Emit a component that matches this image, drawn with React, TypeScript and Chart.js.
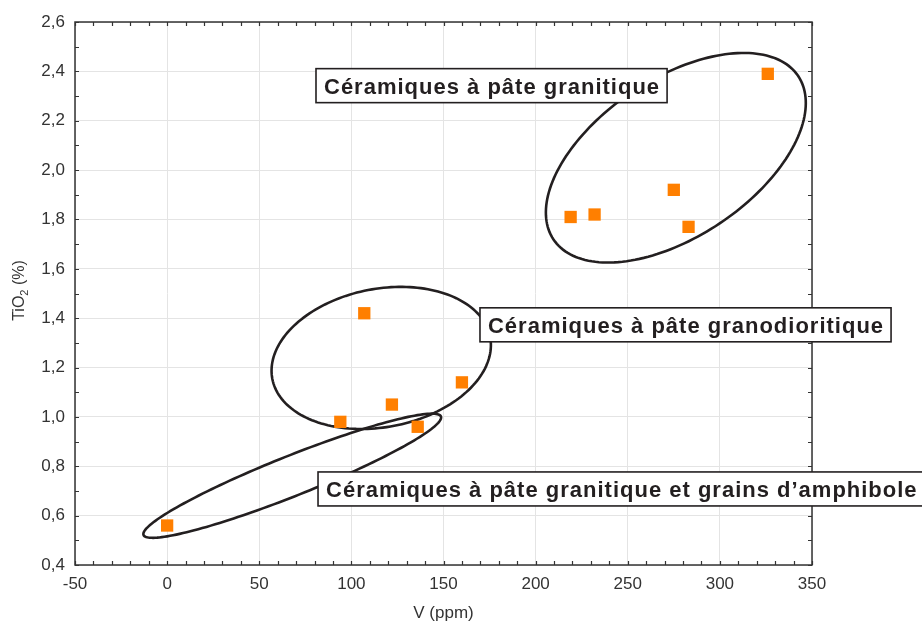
import React, { useEffect, useRef } from 'react';
import { Chart, registerables } from 'chart.js';

Chart.register(...registerables);

// ---- data ----
const vPpm = [0, 94, 107, 122, 136, 160, 219, 232, 275, 283, 326];
const tio2 = [0.56, 0.98, 1.42, 1.05, 0.96, 1.14, 1.81, 1.82, 1.92, 1.77, 2.39];

const xMin = -50;
const xMax = 350;
const xStep = 50;
const xMinorStep = 10;
const yMin = 0.4;
const yMax = 2.6;
const yStep = 0.2;
const yMinorStep = 0.1;

const xTitle = 'V (ppm)';
const yTitleMain = 'TiO';
const yTitleSub = '2';
const yTitleRest = ' (%)';

// group annotations (data units)
const groupLabels = [
  'Céramiques à pâte granitique',
  'Céramiques à pâte granodioritique',
  'Céramiques à pâte granitique et grains d’amphibole',
];
const labelLeftX = [80.8, 169.8, 81.9];
const labelTopY = [2.411, 1.442, 0.777];

// ellipses: centre + two conjugate semi-axis vectors (data units)
const ellipseCenterX = [276.1, 116.2, 67.9];
const ellipseCenterY = [2.05, 1.239, 0.7616];
const ellipseAxisA = [[66.4, 0.331], [59.1, 0.0851], [80.7, 0.24]];
const ellipseAxisB = [[23.8, -0.266], [7.09, -0.275], [4.0, -0.0754]];

const FONT = '"Liberation Sans", Arial, Helvetica, sans-serif';
const INK = '#231f20';

const decorPlugin = {
  id: 'decor',
  beforeDatasetsDraw(chart: any) {
    const { ctx, chartArea: ca, scales } = chart;
    const xs = scales.x;
    const ys = scales.y;
    ctx.save();
    // frame
    ctx.strokeStyle = '#333';
    ctx.lineWidth = 1.5;
    ctx.strokeRect(ca.left, ca.top, ca.right - ca.left, ca.bottom - ca.top);
    // inward ticks
    ctx.lineWidth = 1.2;
    ctx.beginPath();
    const tl = 4;
    for (let v = xMin; v <= xMax + 1e-9; v += xMinorStep) {
      const px = Math.round(xs.getPixelForValue(v)) + 0.5;
      ctx.moveTo(px, ca.bottom);
      ctx.lineTo(px, ca.bottom - tl);
      ctx.moveTo(px, ca.top);
      ctx.lineTo(px, ca.top + tl);
    }
    const nY = Math.round((yMax - yMin) / yMinorStep);
    for (let i = 0; i <= nY; i++) {
      const v = yMin + i * yMinorStep;
      const py = Math.round(ys.getPixelForValue(v)) + 0.5;
      ctx.moveTo(ca.left, py);
      ctx.lineTo(ca.left + tl, py);
      ctx.moveTo(ca.right, py);
      ctx.lineTo(ca.right - tl, py);
    }
    ctx.stroke();

    // ellipses
    ctx.strokeStyle = INK;
    ctx.lineWidth = 2.6;
    for (let e = 0; e < ellipseCenterX.length; e++) {
      ctx.beginPath();
      for (let k = 0; k <= 360; k += 2) {
        const t = (k * Math.PI) / 180;
        const c = Math.cos(t);
        const s = Math.sin(t);
        const dx = ellipseCenterX[e] + ellipseAxisA[e][0] * c + ellipseAxisB[e][0] * s;
        const dy = ellipseCenterY[e] + ellipseAxisA[e][1] * c + ellipseAxisB[e][1] * s;
        const px = xs.getPixelForValue(dx);
        const py = ys.getPixelForValue(dy);
        if (k === 0) ctx.moveTo(px, py);
        else ctx.lineTo(px, py);
      }
      ctx.closePath();
      ctx.stroke();
    }
    ctx.restore();
  },
  afterDatasetsDraw(chart: any) {
    const { ctx, scales } = chart;
    const xs = scales.x;
    const ys = scales.y;
    ctx.save();
    ctx.font = `bold 22px ${FONT}`;
    (ctx as any).letterSpacing = '1px';
    for (let i = 0; i < groupLabels.length; i++) {
      const left = xs.getPixelForValue(labelLeftX[i]);
      const top = ys.getPixelForValue(labelTopY[i]);
      const w = ctx.measureText(groupLabels[i]).width;
      const bw = w + 15;
      const bh = 34;
      ctx.fillStyle = '#fff';
      ctx.fillRect(left, top, bw, bh);
      ctx.strokeStyle = INK;
      ctx.lineWidth = 1.6;
      ctx.strokeRect(left, top, bw, bh);
      ctx.fillStyle = INK;
      ctx.textBaseline = 'alphabetic';
      ctx.textAlign = 'left';
      ctx.fillText(groupLabels[i], left + 8, top + 25);
    }
    ctx.restore();
  },
  afterDraw(chart: any) {
    const { ctx, chartArea: ca } = chart;
    ctx.save();
    ctx.fillStyle = '#333';
    // x title
    ctx.font = `17px ${FONT}`;
    ctx.textAlign = 'center';
    ctx.textBaseline = 'alphabetic';
    ctx.fillText(xTitle, (ca.left + ca.right) / 2, 618);
    // y title with subscript
    const cy = (ca.top + ca.bottom) / 2 - 3;
    ctx.translate(24, cy);
    ctx.rotate(-Math.PI / 2);
    ctx.font = `16px ${FONT}`;
    const w1 = ctx.measureText(yTitleMain).width;
    const w3 = ctx.measureText(yTitleRest).width;
    ctx.font = `11px ${FONT}`;
    const w2 = ctx.measureText(yTitleSub).width;
    const total = w1 + w2 + w3;
    let x0 = -total / 2;
    ctx.textAlign = 'left';
    ctx.font = `16px ${FONT}`;
    ctx.fillText(yTitleMain, x0, 0);
    x0 += w1;
    ctx.font = `11px ${FONT}`;
    ctx.fillText(yTitleSub, x0, 4);
    x0 += w2;
    ctx.font = `16px ${FONT}`;
    ctx.fillText(yTitleRest, x0, 0);
    ctx.restore();
  },
};

export default function App() {
  const ref = useRef<HTMLCanvasElement | null>(null);
  useEffect(() => {
    if (!ref.current) return;
    const points = vPpm.map((x, i) => ({ x, y: tio2[i] }));
    const chart = new Chart(ref.current, {
      type: 'scatter',
      data: {
        datasets: [
          {
            data: points,
            pointStyle: 'rect',
            pointRadius: 8.7,
            pointHoverRadius: 8.7,
            backgroundColor: '#ff7f00',
            borderWidth: 0,
          },
        ],
      },
      options: {
        responsive: false,
        animation: false,
        events: [],
        layout: { padding: { top: 22, right: 110, left: 0, bottom: 0 } },
        plugins: { legend: { display: false }, tooltip: { enabled: false } },
        scales: {
          x: {
            type: 'linear',
            min: xMin,
            max: xMax,
            afterFit: (s: any) => {
              s.height = 58;
            },
            ticks: {
              stepSize: xStep,
              color: '#333',
              font: { family: FONT, size: 17 },
              padding: 9,
              maxRotation: 0,
              callback: (v: any) => String(v),
            },
            grid: { color: '#e4e4e4', lineWidth: 1, drawTicks: false },
            border: { display: false },
          },
          y: {
            type: 'linear',
            min: yMin,
            max: yMax,
            afterFit: (s: any) => {
              s.width = 75;
            },
            ticks: {
              stepSize: yStep,
              color: '#333',
              font: { family: FONT, size: 17 },
              padding: 10,
              callback: (v: any) => Number(v).toFixed(1).replace('.', ','),
            },
            grid: { color: '#e4e4e4', lineWidth: 1, drawTicks: false },
            border: { display: false },
          },
        },
      },
      plugins: [decorPlugin],
    });
    return () => chart.destroy();
  }, []);
  return (
    <div style={{ position: 'absolute', left: 0, top: 0, width: 922, height: 623, background: '#fff' }}>
      <canvas ref={ref} width={922} height={623} style={{ display: 'block' }} />
    </div>
  );
}
